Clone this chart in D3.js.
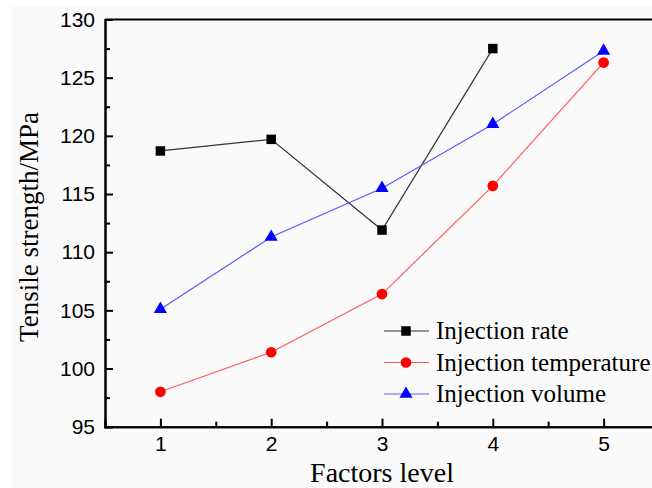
<!DOCTYPE html>
<html>
<head>
<meta charset="utf-8">
<script src="https://cdn.jsdelivr.net/npm/d3@7"></script>
<style>
body { margin: 0; background: #fff; }
svg { display: block; }
</style>
</head>
<body>
<div id="chart"></div>
<script>
var width = 652;
var height = 488;

// data
var levels = [1, 2, 3, 4, 5];
var injectionRate = [118.7, 119.7, 111.9, 127.5];
var injectionTemperature = [98.0, 101.4, 106.4, 115.7, 126.3];
var injectionVolume = [105.1, 111.3, 115.5, 121.0, 127.3];
var seriesNames = ['Injection rate', 'Injection temperature', 'Injection volume'];
var yTicks = [95, 100, 105, 110, 115, 120, 125, 130];

var series = [
	{name: seriesNames[0], values: injectionRate, color: '#000', line: '#333', shape: d3.symbolSquare},
	{name: seriesNames[1], values: injectionTemperature, color: '#ff0000', line: '#ff5a5a', shape: d3.symbolCircle},
	{name: seriesNames[2], values: injectionVolume, color: '#0000ff', line: '#5a5aff', shape: d3.symbolTriangle}
];

var plotLeft = 105, plotRight = 659, plotTop = 19.5, plotBottom = 426.7;

var svg = d3.select('#chart')
			.append('svg')
			.attr('width', width)
			.attr('height', height);

svg.append('rect')
	.attr('x', 12).attr('y', 6)
	.attr('width', width).attr('height', height)
	.attr('fill', '#fafafa');

//scales
var x_scale = d3.scaleLinear().domain([0.5, 5.5]).range([plotLeft, plotRight]);
var y_scale = d3.scaleLinear().domain([95, 130]).range([plotBottom, plotTop]);

//frame line on top
svg.append('line')
	.attr('x1', plotLeft).attr('x2', plotRight)
	.attr('y1', plotTop).attr('y2', plotTop)
	.attr('stroke', '#000').attr('stroke-width', 2);

//axes, ticks point inwards
var x_axis = d3.axisBottom(x_scale).tickValues(levels).tickSize(-8).tickPadding(9).tickFormat(d3.format('d'));
var x_minor = d3.axisBottom(x_scale).tickValues([1.5, 2.5, 3.5, 4.5]).tickSize(-5).tickFormat('');
var y_axis = d3.axisLeft(y_scale).tickValues(yTicks).tickSize(-8).tickPadding(10);
var y_minor = d3.axisLeft(y_scale).tickValues(d3.range(97.5, 130, 5)).tickSize(-5).tickFormat('');

function styleAxis(g) {
	g.select('.domain').attr('stroke-width', 2);
	g.selectAll('.tick line').attr('stroke-width', 2);
	g.selectAll('text')
		.attr('font-family', 'Liberation Sans, Arial, sans-serif')
		.attr('font-size', 21)
		.attr('fill', '#000');
}

svg.append('g').attr('transform', 'translate(0,' + plotBottom + ')').call(x_axis).call(styleAxis);
svg.append('g').attr('transform', 'translate(0,' + plotBottom + ')').call(x_minor).call(styleAxis);
svg.append('g').attr('transform', 'translate(' + plotLeft + ',0)').call(y_axis).call(styleAxis);
svg.append('g').attr('transform', 'translate(' + plotLeft + ',0)').call(y_minor).call(styleAxis);

//axis titles
svg.append('text')
	.attr('x', 382).attr('y', 482)
	.attr('text-anchor', 'middle')
	.attr('font-family', 'Liberation Serif, Times New Roman, serif')
	.attr('font-size', 28)
	.text('Factors level');

svg.append('text')
	.attr('transform', 'translate(38,227) rotate(-90)')
	.attr('text-anchor', 'middle')
	.attr('font-family', 'Liberation Serif, Times New Roman, serif')
	.attr('font-size', 27)
	.text('Tensile strength/MPa');

//lines and markers
var line = d3.line()
			.x(function(d, i){ return x_scale(levels[i]); })
			.y(function(d){ return y_scale(d); });

series.forEach(function(s){
	svg.append('path')
		.attr('d', line(s.values))
		.attr('fill', 'none')
		.attr('stroke', s.line)
		.attr('stroke-width', 1.2);

	svg.append('g').selectAll('path')
		.data(s.values)
		.enter()
		.append('path')
		.attr('d', d3.symbol().type(s.shape).size(s.shape === d3.symbolTriangle ? 75 : 90))
		.attr('transform', function(d, i){
			return 'translate(' + x_scale(levels[i]) + ',' + y_scale(d) + ')';
		})
		.attr('fill', s.color);
});

//legend
var legend = svg.append('g').selectAll('g')
				.data(series)
				.enter()
				.append('g')
				.attr('transform', function(d, i){ return 'translate(384,' + (331 + i * 31.5) + ')'; });

legend.append('line')
	.attr('x1', 0).attr('x2', 45)
	.attr('stroke', function(d){ return d.line; })
	.attr('stroke-width', 1.2);

legend.append('path')
	.attr('d', function(d){ return d3.symbol().type(d.shape).size(d.shape === d3.symbolTriangle ? 75 : 90)(); })
	.attr('transform', 'translate(22,0)')
	.attr('fill', function(d){ return d.color; });

legend.append('text')
	.attr('x', 52).attr('y', 8)
	.attr('font-family', 'Liberation Serif, Times New Roman, serif')
	.attr('font-size', 25)
	.text(function(d){ return d.name; });
</script>
</body>
</html>
